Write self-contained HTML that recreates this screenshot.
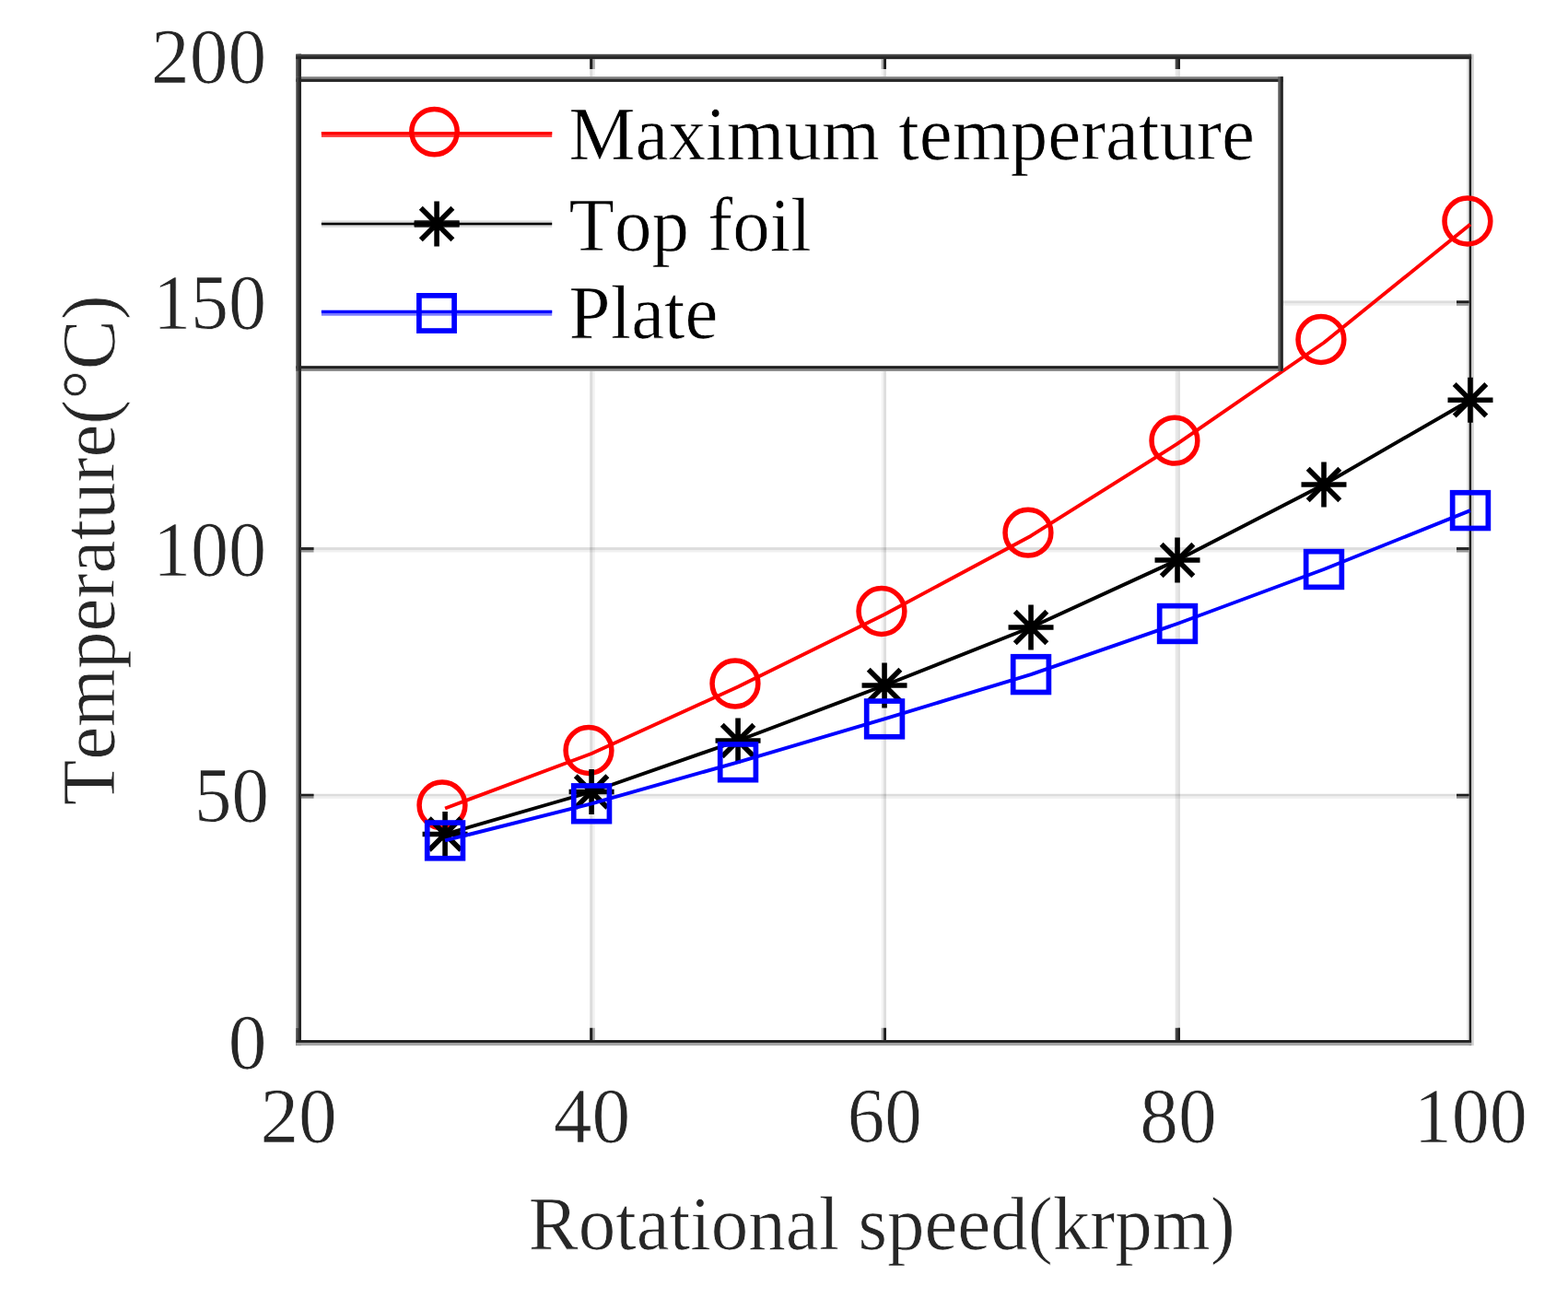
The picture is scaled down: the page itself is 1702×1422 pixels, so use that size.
<!DOCTYPE html>
<html lang="en">
<head>
<meta charset="utf-8">
<title>Temperature vs rotational speed</title>
<style>
html,body{margin:0;padding:0;background:#fff;}
body{width:1702px;height:1422px;overflow:hidden;font-family:"Liberation Serif","Times New Roman",serif;}
svg{display:block;}
text{font-kerning:none;font-variant-ligatures:none;white-space:pre;stroke:#fff;stroke-width:0.7px;stroke-linejoin:round;}
</style>
</head>
<body>
<svg width="1702" height="1422" viewBox="0 0 1702 1422" role="img" aria-label="Temperature versus rotational speed">
<rect x="0" y="0" width="1702" height="1422" fill="#fff"/>
<g id="grid">
<rect x="640.20" y="61.50" width="5.60" height="1070.10" fill="#000" fill-opacity="0.051"/>
<rect x="640.20" y="61.50" width="3.00" height="1070.10" fill="#000" fill-opacity="0.0906"/>
<rect x="956.70" y="61.50" width="5.30" height="1070.10" fill="#000" fill-opacity="0.047"/>
<rect x="959.10" y="61.50" width="2.90" height="1070.10" fill="#000" fill-opacity="0.0871"/>
<rect x="1275.70" y="61.50" width="5.30" height="1070.10" fill="#000" fill-opacity="0.09"/>
<rect x="1278.40" y="61.50" width="2.60" height="1070.10" fill="#000" fill-opacity="0.0352"/>
<rect x="324.10" y="326.40" width="1271.90" height="5.40" fill="#000" fill-opacity="0.067"/>
<rect x="324.10" y="326.40" width="1271.90" height="2.70" fill="#000" fill-opacity="0.075"/>
<rect x="324.10" y="594.10" width="1271.90" height="5.40" fill="#000" fill-opacity="0.059"/>
<rect x="324.10" y="594.10" width="1271.90" height="2.90" fill="#000" fill-opacity="0.0829"/>
<rect x="324.10" y="861.80" width="1271.90" height="5.10" fill="#000" fill-opacity="0.059"/>
<rect x="324.10" y="861.80" width="1271.90" height="2.40" fill="#000" fill-opacity="0.0829"/>
</g>
<g id="box">
<rect x="1597.10" y="58.80" width="2.70" height="1076.10" fill="#000" fill-opacity="0.18"/>
<rect x="1592.00" y="64.10" width="2.60" height="1064.90" fill="#000" fill-opacity="0.08"/>
<rect x="1594.60" y="58.80" width="2.50" height="1076.10" fill="#202020"/>
<rect x="321.40" y="58.80" width="5.60" height="1076.10" fill="#767676"/>
<rect x="321.40" y="58.80" width="5.60" height="24.40" fill="#4a4a4a"/>
<rect x="321.40" y="1116.00" width="5.60" height="18.90" fill="#4a4a4a"/>
<rect x="324.10" y="58.80" width="2.90" height="1076.10" fill="#262626"/>
<rect x="321.40" y="58.80" width="1275.70" height="5.30" fill="#454545"/>
<rect x="321.40" y="61.20" width="1275.70" height="2.90" fill="#262626"/>
<rect x="321.40" y="1129.00" width="1275.70" height="5.90" fill="#a4a4a4"/>
<rect x="321.40" y="1129.00" width="1275.70" height="2.80" fill="#202020"/>
</g>
<g id="ticks">
<rect x="640.20" y="64.00" width="5.60" height="11.00" fill="#aaaaaa"/>
<rect x="640.20" y="64.00" width="3.00" height="11.00" fill="#1e1e1e"/>
<rect x="640.20" y="1115.80" width="5.60" height="13.30" fill="#aaaaaa"/>
<rect x="640.20" y="1115.80" width="3.00" height="13.30" fill="#1e1e1e"/>
<rect x="956.70" y="64.00" width="5.30" height="11.00" fill="#aaaaaa"/>
<rect x="959.10" y="64.00" width="2.90" height="11.00" fill="#1e1e1e"/>
<rect x="956.70" y="1115.80" width="5.30" height="13.30" fill="#aaaaaa"/>
<rect x="959.10" y="1115.80" width="2.90" height="13.30" fill="#1e1e1e"/>
<rect x="1275.70" y="64.00" width="5.30" height="11.00" fill="#464646"/>
<rect x="1278.40" y="64.00" width="2.60" height="11.00" fill="#222222"/>
<rect x="1275.70" y="1115.80" width="5.30" height="13.30" fill="#464646"/>
<rect x="1278.40" y="1115.80" width="2.60" height="13.30" fill="#222222"/>
<rect x="326.90" y="326.40" width="13.60" height="5.40" fill="#959595"/>
<rect x="326.90" y="326.40" width="13.60" height="2.70" fill="#1e1e1e"/>
<rect x="1581.00" y="326.40" width="13.70" height="5.40" fill="#959595"/>
<rect x="1581.00" y="326.40" width="13.70" height="2.70" fill="#1e1e1e"/>
<rect x="326.90" y="594.10" width="13.60" height="5.40" fill="#959595"/>
<rect x="326.90" y="594.10" width="13.60" height="2.90" fill="#262626"/>
<rect x="1581.00" y="594.10" width="13.70" height="5.40" fill="#959595"/>
<rect x="1581.00" y="594.10" width="13.70" height="2.90" fill="#262626"/>
<rect x="326.90" y="861.80" width="13.60" height="4.90" fill="#8a8a8a"/>
<rect x="326.90" y="861.80" width="13.60" height="2.40" fill="#1e1e1e"/>
<rect x="1581.00" y="861.80" width="13.70" height="4.90" fill="#8a8a8a"/>
<rect x="1581.00" y="861.80" width="13.70" height="2.40" fill="#1e1e1e"/>
</g>
<g id="series-max">
<polyline points="483.09,877.50 642.08,818.00 801.06,745.50 960.05,667.00 1119.04,581.70 1278.03,481.70 1437.01,372.00 1596.00,243.50" fill="none" stroke="#ff0000" stroke-width="3.9" stroke-linejoin="round"/>
<circle cx="479.99" cy="874.00" r="24.9" fill="none" stroke="#ff0000" stroke-width="5.5"/>
<circle cx="638.98" cy="814.50" r="24.9" fill="none" stroke="#ff0000" stroke-width="5.5"/>
<circle cx="797.96" cy="742.00" r="24.9" fill="none" stroke="#ff0000" stroke-width="5.5"/>
<circle cx="956.95" cy="663.50" r="24.9" fill="none" stroke="#ff0000" stroke-width="5.5"/>
<circle cx="1115.94" cy="578.20" r="24.9" fill="none" stroke="#ff0000" stroke-width="5.5"/>
<circle cx="1274.93" cy="478.20" r="24.9" fill="none" stroke="#ff0000" stroke-width="5.5"/>
<circle cx="1433.91" cy="368.50" r="24.9" fill="none" stroke="#ff0000" stroke-width="5.5"/>
<circle cx="1592.90" cy="240.00" r="24.9" fill="none" stroke="#ff0000" stroke-width="5.5"/>
</g><g id="series-topfoil">
<polyline points="483.09,905.50 642.08,859.50 801.06,804.00 960.05,744.00 1119.04,681.00 1278.03,608.00 1437.01,526.00 1596.00,434.20" fill="none" stroke="#000" stroke-width="3.9" stroke-linejoin="round"/>
<path d="M458.59 905.50H507.59M483.09 881.00V930.00M465.79 888.20L500.39 922.80M465.79 922.80L500.39 888.20" fill="none" stroke="#000" stroke-width="5.6"/>
<path d="M617.58 859.50H666.58M642.08 835.00V884.00M624.78 842.20L659.38 876.80M624.78 876.80L659.38 842.20" fill="none" stroke="#000" stroke-width="5.6"/>
<path d="M776.56 804.00H825.56M801.06 779.50V828.50M783.76 786.70L818.36 821.30M783.76 821.30L818.36 786.70" fill="none" stroke="#000" stroke-width="5.6"/>
<path d="M935.55 744.00H984.55M960.05 719.50V768.50M942.75 726.70L977.35 761.30M942.75 761.30L977.35 726.70" fill="none" stroke="#000" stroke-width="5.6"/>
<path d="M1094.54 681.00H1143.54M1119.04 656.50V705.50M1101.74 663.70L1136.34 698.30M1101.74 698.30L1136.34 663.70" fill="none" stroke="#000" stroke-width="5.6"/>
<path d="M1253.53 608.00H1302.53M1278.03 583.50V632.50M1260.73 590.70L1295.33 625.30M1260.73 625.30L1295.33 590.70" fill="none" stroke="#000" stroke-width="5.6"/>
<path d="M1412.51 526.00H1461.51M1437.01 501.50V550.50M1419.71 508.70L1454.31 543.30M1419.71 543.30L1454.31 508.70" fill="none" stroke="#000" stroke-width="5.6"/>
<path d="M1571.50 434.20H1620.50M1596.00 409.70V458.70M1578.70 416.90L1613.30 451.50M1578.70 451.50L1613.30 416.90" fill="none" stroke="#000" stroke-width="5.6"/>
</g><g id="series-plate">
<polyline points="483.09,912.40 642.08,872.30 801.06,827.30 960.05,780.40 1119.04,732.10 1278.03,677.00 1437.01,618.00 1596.00,554.10" fill="none" stroke="#0000ff" stroke-width="3.9" stroke-linejoin="round"/>
<rect x="463.74" y="893.05" width="38.7" height="38.7" fill="none" stroke="#0000ff" stroke-width="5.7"/>
<rect x="622.73" y="852.95" width="38.7" height="38.7" fill="none" stroke="#0000ff" stroke-width="5.7"/>
<rect x="781.71" y="807.95" width="38.7" height="38.7" fill="none" stroke="#0000ff" stroke-width="5.7"/>
<rect x="940.70" y="761.05" width="38.7" height="38.7" fill="none" stroke="#0000ff" stroke-width="5.7"/>
<rect x="1099.69" y="712.75" width="38.7" height="38.7" fill="none" stroke="#0000ff" stroke-width="5.7"/>
<rect x="1258.68" y="657.65" width="38.7" height="38.7" fill="none" stroke="#0000ff" stroke-width="5.7"/>
<rect x="1417.66" y="598.65" width="38.7" height="38.7" fill="none" stroke="#0000ff" stroke-width="5.7"/>
<rect x="1576.65" y="534.75" width="38.7" height="38.7" fill="none" stroke="#0000ff" stroke-width="5.7"/>
</g>
<g id="legend">
<rect x="321.40" y="83.20" width="1071.30" height="319.60" fill="#ffffff"/>
<rect x="321.40" y="83.20" width="1071.30" height="5.60" fill="#808080"/>
<rect x="321.40" y="85.80" width="1071.30" height="3.00" fill="#262626"/>
<rect x="321.40" y="397.30" width="1071.30" height="5.50" fill="#808080"/>
<rect x="321.40" y="397.30" width="1071.30" height="2.80" fill="#1e1e1e"/>
<rect x="321.40" y="83.20" width="5.60" height="319.60" fill="#444444"/>
<rect x="324.10" y="83.20" width="2.90" height="319.60" fill="#262626"/>
<rect x="1387.30" y="83.20" width="5.40" height="319.60" fill="#5a5a5a"/>
<rect x="1389.90" y="83.20" width="2.80" height="319.60" fill="#262626"/>
<rect x="348.90" y="143.00" width="250.30" height="5.90" fill="#ff0000" fill-opacity="0.77"/>
<rect x="348.90" y="143.00" width="250.30" height="3.20" fill="#ff0000"/>
<rect x="348.90" y="239.30" width="250.30" height="7.50" fill="#000" fill-opacity="0.13"/>
<rect x="348.90" y="241.70" width="250.30" height="2.60" fill="#000"/>
<rect x="348.90" y="336.80" width="250.30" height="5.90" fill="#0000ff" fill-opacity="0.53"/>
<rect x="348.90" y="336.80" width="250.30" height="3.10" fill="#0000ff"/>
<circle cx="471.50" cy="143.10" r="24.7" fill="none" stroke="#ff0000" stroke-width="5.5"/>
<rect x="449.70" y="238.90" width="48.90" height="8.00" fill="#000" fill-opacity="0.72"/>
<path d="M449.60 243.00H498.60M474.10 218.50V267.50M456.80 225.70L491.40 260.30M456.80 260.30L491.40 225.70" fill="none" stroke="#000" stroke-width="5.6"/>
<rect x="454.90" y="320.85" width="38.2" height="38.2" fill="none" stroke="#0000ff" stroke-width="5.7"/>
<g font-family="'Liberation Serif', 'Times New Roman', serif" font-size="81.0" fill="#000">
<text transform="translate(617.6 172.8) scale(1 1.02)">Maximum temperature</text>
<text transform="translate(617.6 271.7) scale(1 1.02)">Top foil</text>
<text transform="translate(617.6 367.2) scale(1 1.02)">Plate</text>
</g></g>
<g id="labels" font-family="'Liberation Serif', 'Times New Roman', serif" font-size="81.0" fill="#262626">
<text transform="translate(324.10 1240.4) scale(1.03 1.045)" text-anchor="middle">20</text>
<text transform="translate(642.38 1240.4) scale(1.03 1.045)" text-anchor="middle">40</text>
<text transform="translate(960.35 1240.4) scale(1.0 1.045)" text-anchor="middle">60</text>
<text transform="translate(1278.92 1240.4) scale(1.03 1.045)" text-anchor="middle">80</text>
<text transform="translate(1596.30 1240.4) scale(1.015 1.045)" text-anchor="middle">100</text>
<text transform="translate(289.4 1160.00) scale(1.03 1.045)" text-anchor="end">0</text>
<text transform="translate(292.0 892.47) scale(1.0 1.045)" text-anchor="end">50</text>
<text transform="translate(289.2 624.95) scale(1.015 1.045)" text-anchor="end">100</text>
<text transform="translate(289.2 357.42) scale(1.015 1.045)" text-anchor="end">150</text>
<text transform="translate(289.2 89.90) scale(1.03 1.045)" text-anchor="end">200</text>
<text transform="translate(957.2 1355.9) scale(1 1.02)" text-anchor="middle">Rotational speed(krpm)</text>
<text transform="translate(124.2 597.3) rotate(-90) scale(1 1.02)" text-anchor="middle">Temperature(°C)</text>
</g>
</svg>
</body>
</html>
